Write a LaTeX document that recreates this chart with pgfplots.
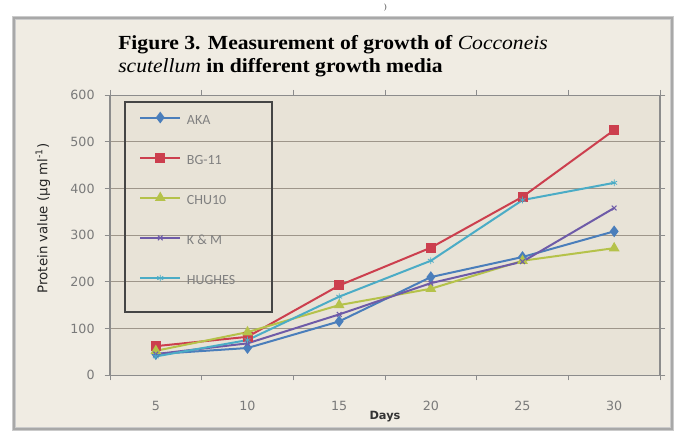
\documentclass[border=0pt]{standalone}
\usepackage{pgfplots}
\pgfplotsset{compat=1.18}
\usepackage{fontspec}
\setmainfont{DejaVu Sans}
\newfontfamily\titlefont{Liberation Serif}[FakeStretch=1.08]
\newfontfamily\legfont{Carlito}

\definecolor{chartbg}{HTML}{F0ECE3}
\definecolor{plotbg}{HTML}{E8E3D7}
\definecolor{framec}{HTML}{A8A8A8}
\definecolor{gridc}{HTML}{9E968A}
\definecolor{axisc}{HTML}{8C8C8C}
\definecolor{ticktext}{HTML}{7A7A7A}
\definecolor{legtext}{HTML}{808080}
\definecolor{legbox}{HTML}{454545}
\definecolor{cAKA}{HTML}{4A7EBB}
\definecolor{cBG}{HTML}{CC3F4E}
\definecolor{cCHU}{HTML}{B5C24A}
\definecolor{cKM}{HTML}{6E5BA8}
\definecolor{cHUG}{HTML}{4BACC6}

\pgfplotstableread{
day AKA  BG   CHU  KM   HUG
5   45   62   52   45   40
10  58   82   92   68   75
15  115  192  150  130  168
20  210  273  185  197  245
25  253  382  245  243  375
30  308  525  272  358  412
}\growth

\begin{document}
\begin{tikzpicture}
% canvas 683x434 px at 0.75pt/px
\fill[white] (0pt,0pt) rectangle (512.25pt,-325.5pt);
\fill[framec!60] (9pt,-9pt) rectangle (505.5pt,-320.25pt);
\fill[chartbg] (12pt,-12pt) rectangle (502.5pt,-317.25pt);
\draw[framec, line width=1.2pt] (10.5pt,-10.5pt) rectangle (504pt,-318.75pt);
\node[font=\titlefont\fontsize{6}{6}\selectfont, text=black!70] at (289pt,-3pt) {)};
\node[anchor=north west, align=left, inner sep=0pt,
      font=\titlefont\bfseries\fontsize{15}{17.5}\selectfont]
  at (88.5pt,-23pt)
  {Figure 3. Measurement of growth of {\mdseries\itshape Cocconeis}\\
   {\mdseries\itshape scutellum} in different growth media};

\begin{axis}[
  at={(82.5pt,-278.25pt)}, anchor=south west,
  width=412.5pt, height=210pt, scale only axis,
  xmin=2.5, xmax=32.5, ymin=0, ymax=600,
  xtick={5,10,...,30}, ytick={0,100,...,600},
  minor xtick={2.5,7.5,...,32.5},
  major x tick style={draw=none},
  tick align=outside,
  major tick length=4pt, minor tick length=4pt,
  tick style={draw=axisc, line width=0.6pt},
  ymajorgrids, grid style={draw=gridc, line width=0.6pt},
  axis line style={draw=axisc, line width=0.8pt},
  axis background/.style={fill=plotbg},
  /pgf/number format/assume math mode=true,
  tick label style={font=\fontsize{9.5}{9.5}\selectfont, text=ticktext},
  xticklabel style={yshift=-12pt},
  yticklabel style={xshift=-4pt},
  xlabel={Days},
  xlabel style={at={(axis description cs:0.5,-0.149)}, anchor=center,
    font=\bfseries\fontsize{8.5}{9}\selectfont, text=black!80},
  ylabel={Protein value (µg ml\textsuperscript{-1})},
  ylabel style={at={(axis description cs:-0.122,0.56)}, anchor=center, rotate=0,
    font=\fontsize{10}{10}\selectfont, text=black!85},
  legend cell align=left,
  legend image code/.code={\path[use as bounding box, draw=none, fill=none] (0pt,-2pt) rectangle (30pt,6pt);
    \draw[mark repeat=2,mark phase=2,#1] plot coordinates {(0pt,3pt)(15pt,3pt)(30pt,3pt)};},
  legend style={draw=none, fill=none, at={(0.0545,0.935)}, anchor=north west,
    inner sep=0pt, row sep=20.1pt, column sep=5pt,
    font=\legfont\fontsize{10.5}{10.5}\selectfont, text=legtext,
    nodes={inner sep=0pt, text height=6pt, text depth=2pt}},
  every axis plot/.append style={line width=1.5pt},
]
\addplot[color=cAKA, mark=diamond*, mark size=3.2pt] table[x=day,y=AKA]{\growth};
\addlegendentry{AKA}
\addplot[color=cBG, mark=square*, mark size=3pt] table[x=day,y=BG]{\growth};
\addlegendentry{BG-11}
\addplot[color=cCHU, mark=triangle*, mark size=3.2pt] table[x=day,y=CHU]{\growth};
\addlegendentry{CHU10}
\addplot[color=cKM, mark=x, mark size=2.5pt, mark options={line width=0.8pt}] table[x=day,y=KM]{\growth};
\addlegendentry{K \& M}
\addplot[color=cHUG, mark=asterisk, mark size=2.5pt, mark options={line width=0.6pt}] table[x=day,y=HUG]{\growth};
\addlegendentry{HUGHES}
\draw[legbox, line width=1.5pt] (rel axis cs:0.0273,0.975) rectangle (rel axis cs:0.2945,0.225);
\end{axis}
\end{tikzpicture}
\end{document}
